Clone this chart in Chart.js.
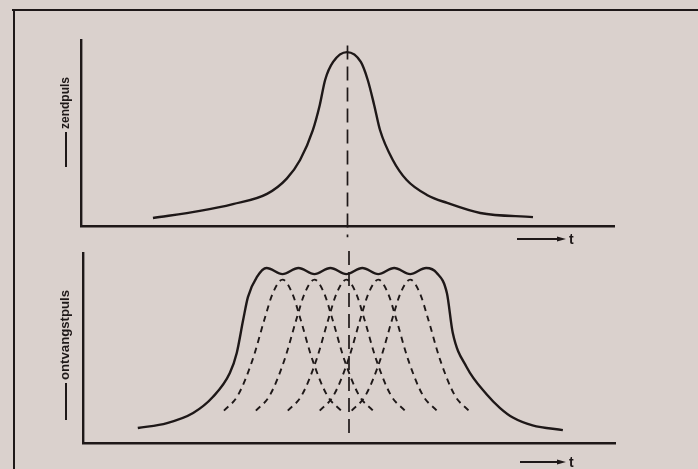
<!DOCTYPE html>
<html>
<head>
<meta charset="utf-8">
<script src="https://cdn.jsdelivr.net/npm/chart.js@4.4.1/dist/chart.umd.min.js"></script>
<style>
    html, body { margin: 0; padding: 0; background: #dad1cd; }
    body { width: 698px; height: 469px; position: relative; overflow: hidden; }
    .frame-left { position: absolute; left: 13px; top: 9px; width: 2px; height: 460px; background: #1e1818; }
    .frame-top { position: absolute; left: 12px; top: 9px; width: 686px; height: 2px; background: #1e1818; }
    .panel { position: absolute; left: 0; width: 698px; }
    #sendPanel { top: 0; height: 250px; }
    #recvPanel { top: 240px; height: 229px; }
</style>
</head>
<body>
<div class="frame-left"></div>
<div class="frame-top"></div>
<div class="panel" id="recvPanel"><canvas id="recvChart"></canvas></div>
<div class="panel" id="sendPanel"><canvas id="sendChart"></canvas></div>

<script>
// zendpuls: one sharp pulse
const sendTimes = [13.5, 22.3, 28.5, 34.9, 38.6, 41.1, 43.5, 44.8, 45.8, 47.3, 49.9, 52.5, 53.8, 55, 56.1, 58.5, 61.1, 64.9, 68.7, 74.9, 84.8];
const sendPulse = [4.3, 8.1, 11.8, 17.3, 25.5, 35.5, 51.6, 65.1, 78.5, 88.2, 93.5, 88.2, 78.5, 65.1, 51.6, 35.5, 24.7, 16.7, 12.4, 7, 4.8];

// ontvangstpuls: the spread-out sum of the delayed pulses
const recvTimes = [10.3, 15.8, 20.7, 24.4, 27.6, 28.9, 30.1, 31, 32.7, 34.5, 37.5, 40.5, 43.5, 46.5, 49.5, 52.5, 55.5, 58.5, 61.5, 64.5, 66.5, 68.4, 69.5, 72.1, 75.9, 78.4, 80.8, 84.5, 90.2];
const recvPulse = [7.9, 10.5, 15.8, 24.2, 36.8, 47.4, 64.7, 76.8, 87.4, 92.1, 88.9, 92.1, 88.9, 92.1, 88.9, 92.1, 88.9, 92.1, 88.9, 92.1, 89.5, 78.9, 58, 40, 25.5, 18.4, 13.4, 9.3, 6.8];

// the separate delayed pulses (dashed), all with the same heights
const echoLevels = [17, 25, 44, 65, 79, 86, 79, 65, 44, 25, 17];
const echoTimes = [
    [26.5, 29.1, 31.9, 34.1, 35.7, 37.5, 39.3, 40.9, 43.1, 45.9, 48.5],
    [32.5, 35.1, 37.9, 40.1, 41.7, 43.5, 45.3, 46.9, 49.1, 51.9, 54.5],
    [38.5, 41.1, 43.9, 46.1, 47.7, 49.5, 51.3, 52.9, 55.1, 57.9, 60.5],
    [44.5, 47.1, 49.9, 52.1, 53.7, 55.5, 57.3, 58.9, 61.1, 63.9, 66.5],
    [50.5, 53.1, 55.9, 58.1, 59.7, 61.5, 63.3, 64.9, 67.1, 69.9, 72.5]
];

// centre marker through both panels
const markerTime = 50;
const sendMarker = [97, -6];
const recvMarker = [101, 3];

const INK = '#1e1818';

const pulseDecor = {
    id: 'pulseDecor',
    afterDraw(chart, args, opts) {
        const ctx = chart.ctx;
        ctx.save();
        ctx.strokeStyle = INK;
        ctx.fillStyle = INK;
        ctx.lineWidth = 2;

        // vertical axis label with its lead line
        ctx.save();
        ctx.translate(opts.labelX, opts.labelBottom);
        ctx.rotate(-Math.PI / 2);
        ctx.beginPath();
        ctx.moveTo(0, 0);
        ctx.lineTo(opts.leadLength, 0);
        ctx.stroke();
        ctx.font = 'bold 12px "Liberation Sans", Arial, sans-serif';
        ctx.textBaseline = 'middle';
        const w = ctx.measureText(opts.label).width;
        ctx.translate(opts.leadLength + 3, 0);
        ctx.scale(opts.labelLength / w, 1);
        ctx.fillText(opts.label, 0, 0);
        ctx.restore();

        // time arrow under the axis
        const y = opts.arrowY;
        ctx.beginPath();
        ctx.moveTo(opts.arrowFrom, y);
        ctx.lineTo(opts.arrowTo - 6, y);
        ctx.stroke();
        ctx.beginPath();
        ctx.moveTo(opts.arrowTo, y);
        ctx.lineTo(opts.arrowTo - 9, y - 2.5);
        ctx.lineTo(opts.arrowTo - 9, y + 2.5);
        ctx.closePath();
        ctx.fill();
        ctx.font = 'bold 14px "Liberation Sans", Arial, sans-serif';
        ctx.textBaseline = 'middle';
        ctx.fillText('t', opts.arrowTo + 3, y + 1);
        ctx.restore();
    }
};

class PulseFigure {
    constructor() {
        this.createPanel('sendChart', this.sendDatasets(), {
            padding: { left: 81, top: 40, right: 84, bottom: 24 },
            decor: { label: 'zendpuls', labelX: 66, labelBottom: 167, leadLength: 35, labelLength: 52,
                     arrowFrom: 517, arrowTo: 566, arrowY: 239 }
        });
        this.createPanel('recvChart', this.recvDatasets(), {
            padding: { left: 83, top: 13, right: 83, bottom: 26 },
            decor: { label: 'ontvangstpuls', labelX: 66, labelBottom: 180, leadLength: 37, labelLength: 90,
                     arrowFrom: 520, arrowTo: 566, arrowY: 222 }
        });
    }

    points(xs, ys) {
        return xs.map((x, i) => ({ x: x, y: ys[i] }));
    }

    solid(data) {
        return { data: data, borderColor: INK, borderWidth: 2.4, pointRadius: 0,
                 cubicInterpolationMode: 'monotone' };
    }

    dashed(data) {
        return { data: data, borderColor: INK, borderWidth: 1.9, borderDash: [6, 5], pointRadius: 0,
                 cubicInterpolationMode: 'monotone' };
    }

    marker(ys) {
        return { data: ys.map(y => ({ x: markerTime, y: y })), borderColor: INK, borderWidth: 1.7,
                 borderDash: [14, 7], pointRadius: 0, clip: false };
    }

    sendDatasets() {
        return [
            this.solid(this.points(sendTimes, sendPulse)),
            this.marker(sendMarker)
        ];
    }

    recvDatasets() {
        const sets = [this.solid(this.points(recvTimes, recvPulse))];
        echoTimes.forEach(ts => sets.push(this.dashed(this.points(ts, echoLevels))));
        sets.push(this.marker(recvMarker));
        return sets;
    }

    axis() {
        return {
            type: 'linear', min: 0, max: 100,
            grid: { display: false, drawTicks: false },
            ticks: { display: false },
            border: { display: true, color: INK, width: 2.4 }
        };
    }

    createPanel(id, datasets, cfg) {
        const ctx = document.getElementById(id);
        return new Chart(ctx.getContext('2d'), {
            type: 'line',
            data: { datasets: datasets },
            options: {
                responsive: true,
                maintainAspectRatio: false,
                animation: false,
                layout: { padding: cfg.padding },
                scales: { x: this.axis(), y: this.axis() },
                plugins: {
                    legend: { display: false },
                    tooltip: { enabled: false },
                    pulseDecor: cfg.decor
                }
            },
            plugins: [pulseDecor]
        });
    }
}

new PulseFigure();
</script>
</body>
</html>
